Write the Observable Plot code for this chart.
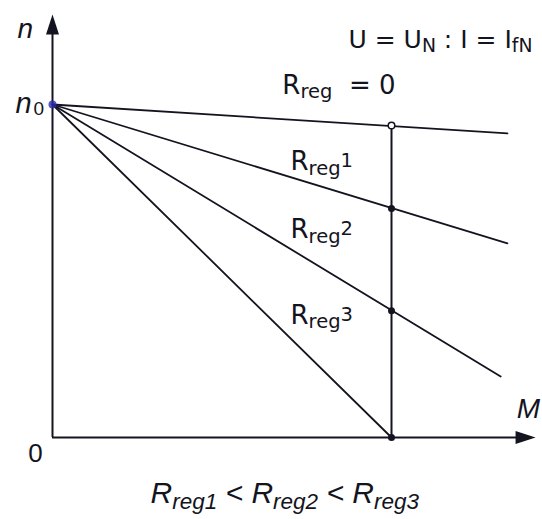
<!DOCTYPE html>
<html><head><meta charset="utf-8">
<script src="https://cdn.jsdelivr.net/npm/d3@7"></script>
<script src="https://cdn.jsdelivr.net/npm/@observablehq/plot@0.6"></script>
<style>html,body{margin:0;padding:0;background:#fff} svg{display:block}</style>
</head><body><div id="chart"></div>
<script>
// ---- data (relative units: M / M_N, n / n0) ----
const series = ["Rreg = 0", "Rreg1", "Rreg2", "Rreg3"];
const n0 = 1;                       // ideal no-load speed
const endM = [1.342, 1.342, 1.322, 1.0];
const endN = [0.913, 0.583, 0.183, 0];
const ratedM = 1;                   // M_N
const ratedN = [0.937, 0.688, 0.381, 0];
const lineLabels = ["R_{reg}  = 0", "R_{reg}^{1}", "R_{reg}^{2}", "R_{reg}^{3}"];
const labelM = [0.678, 0.702, 0.702, 0.702];
const labelN = [1.033, 0.802, 0.598, 0.342];
const conditionText = "U = U_{N} : I = I_{fN}";
const captionText = "R_{reg1} < R_{reg2} < R_{reg3}";
const axisNames = ["n", "M"];
const xAxisEnd = 1.425, yAxisTop = 1.27;

// ---- build tables ----
const lineData = series.flatMap((s, i) => [
  {s, M: 0, n: n0},
  {s, M: endM[i], n: endN[i]}
]);
const pointData = series.map((s, i) => ({s, M: ratedM, n: ratedN[i], i}));
const labelData = series.map((s, i) => ({text: lineLabels[i], M: labelM[i], n: labelN[i]}));

const arrowSymbol = {
  draw(ctx, size) {
    const s = Math.sqrt(size / Math.PI) / 10;
    ctx.moveTo(0, 0);
    ctx.lineTo(-6.5 * s, 20 * s);
    ctx.lineTo(6.5 * s, 20 * s);
    ctx.closePath();
  }
};
const ink = "#141420";

const plot = Plot.plot({
  width: 542, height: 519, margin: 0,
  x: {domain: [0, 1], range: [52, 391], axis: null},
  y: {domain: [0, 1], range: [437, 104], axis: null},
  style: {background: "#fff", fontFamily: "DejaVu Sans", color: ink},
  marks: [
    Plot.ruleX([0], {y1: 0, y2: yAxisTop - 0.03, stroke: ink, strokeWidth: 2}),
    Plot.ruleY([0], {x1: 0, x2: xAxisEnd - 0.03, stroke: ink, strokeWidth: 2}),
    Plot.dot([{M: 0, n: yAxisTop, r: 0}, {M: xAxisEnd, n: 0, r: 90}],
      {x: "M", y: "n", rotate: "r", symbol: arrowSymbol, r: 10, fill: ink, stroke: "none"}),
    Plot.line(lineData, {x: "M", y: "n", z: "s", stroke: ink, strokeWidth: 1.8}),
    Plot.ruleX([ratedM], {y1: 0, y2: ratedN[0], stroke: ink, strokeWidth: 2}),
    Plot.dot([{M: 0, n: n0}], {x: "M", y: "n", r: 4, fill: "#2a2ab0", stroke: "none", fillOpacity: 0.8}),
    Plot.dot(pointData.filter(d => d.i > 0), {x: "M", y: "n", r: 3.5, fill: ink, stroke: "none"}),
    Plot.dot(pointData.filter(d => d.i === 0), {x: "M", y: "n", r: 3.3, fill: "#fff", stroke: ink, strokeWidth: 1.5}),
    // curve labels
    Plot.text(labelData, {x: "M", y: "n", text: "text", textAnchor: "start", lineAnchor: "bottom",
      fontSize: 26, fill: ink}),
    // condition
    Plot.text([conditionText], {x: 0.873, y: 1.171, textAnchor: "start", lineAnchor: "bottom",
      fontSize: 25, fill: ink}),
    // axis names
    Plot.text([axisNames[0]], {x: -0.08, y: 1.201, textAnchor: "middle", lineAnchor: "bottom",
      fontSize: 28, fontStyle: "italic", fontFamily: "Liberation Sans", fill: ink}),
    Plot.text([axisNames[1]], {x: 1.404, y: 0.06, textAnchor: "middle", lineAnchor: "bottom",
      fontSize: 28, fontStyle: "italic", fontFamily: "Liberation Sans", fill: ink}),
    Plot.text(["n"], {x: -0.109, y: 0.973, textAnchor: "start", lineAnchor: "bottom",
      fontSize: 29, fontStyle: "italic", fontFamily: "Liberation Sans", fill: ink}),
    Plot.text(["0"], {x: -0.056, y: 0.967, textAnchor: "start", lineAnchor: "bottom",
      fontSize: 19, fontFamily: "Liberation Sans", fill: ink}),
    Plot.text(["0"], {x: -0.05, y: -0.075, textAnchor: "middle", lineAnchor: "bottom",
      fontSize: 26, fontFamily: "Liberation Sans", fill: ink}),
    // caption
    Plot.text([captionText], {x: 0.289, y: -0.198, textAnchor: "start", lineAnchor: "bottom",
      fontSize: 30, fontStyle: "italic", fontFamily: "Liberation Sans", fill: ink})
  ]
});
document.getElementById("chart").appendChild(plot);

// ---- turn _{..} / ^{..} markup into real sub/superscript tspans ----
d3.select(plot).selectAll("text").each(function () {
  const src = this.textContent;
  if (!/[_^]\{/.test(src)) return;
  const base = parseFloat(getComputedStyle(this).fontSize) || 16;
  const tokens = [];
  const re = /([_^])\{([^}]*)\}|([^_^]+)/g;
  let m;
  while ((m = re.exec(src))) {
    if (m[3]) tokens.push({t: m[3], scale: 1, shift: 0});
    else if (m[1] === "_") tokens.push({t: m[2], scale: 0.75, shift: 0.18 * base});
    else tokens.push({t: m[2], scale: 0.75, shift: -0.12 * base});
  }
  this.textContent = "";
  let cur = 0;
  for (const tk of tokens) {
    const ts = d3.select(this).append("tspan").text(tk.t).attr("font-size", (base * tk.scale) + "px");
    if (tk.shift !== cur) ts.attr("dy", (tk.shift - cur) + "px");
    cur = tk.shift;
  }
  this.setAttribute("xml:space", "preserve");
  this.style.whiteSpace = "pre";
});
</script></body></html>
